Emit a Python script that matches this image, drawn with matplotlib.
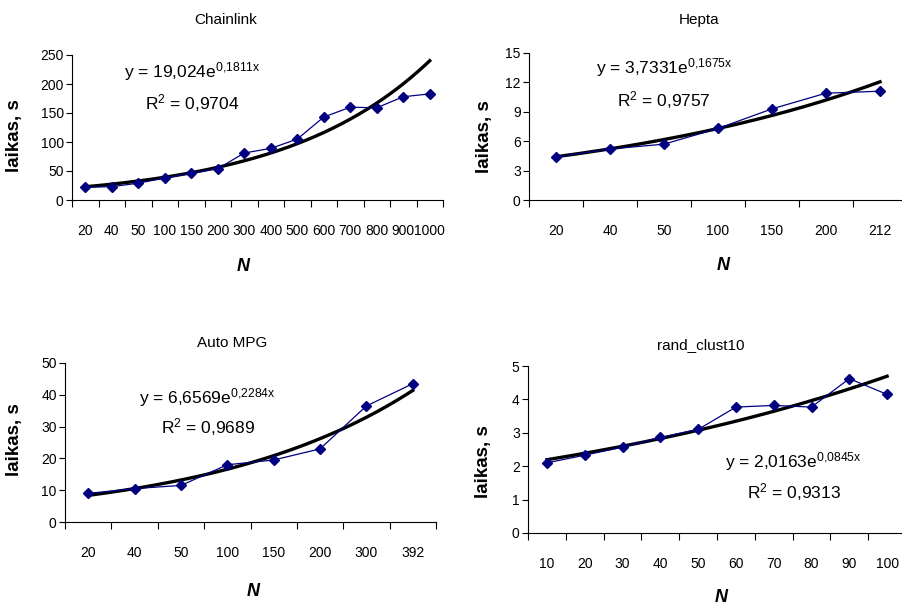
import numpy as np
import matplotlib
matplotlib.use('Agg')
import matplotlib.pyplot as plt

plt.rcParams['font.family'] = ['Liberation Sans Narrow', 'Liberation Sans', 'DejaVu Sans']

W, H = 902, 606

# data
chain_n = ['20', '40', '50', '100', '150', '200', '300', '400', '500', '600', '700', '800', '900', '1000']
chain_t = [22, 23, 29, 38, 46, 54, 81, 89, 105, 143, 160, 159, 178, 183]
chain_fit = (19.024, 0.1811, 0.9704)

hepta_n = ['20', '40', '50', '100', '150', '200', '212']
hepta_t = [4.4, 5.2, 5.7, 7.3, 9.3, 10.9, 11.1]
hepta_fit = (3.7331, 0.1675, 0.9757)

auto_n = ['20', '40', '50', '100', '150', '200', '300', '392']
auto_t = [9.0, 10.5, 11.5, 18.0, 19.5, 23.0, 36.5, 43.5]
auto_fit = (6.6569, 0.2284, 0.9689)

rand_n = ['10', '20', '30', '40', '50', '60', '70', '80', '90', '100']
rand_t = [2.1, 2.33, 2.57, 2.86, 3.1, 3.77, 3.82, 3.77, 4.62, 4.15]
rand_fit = (2.0163, 0.0845, 0.9313)


def fmt(v, d, math=False):
    s = f'{v:.{d}f}'
    return s.replace('.', '{,}') if math else s.replace('.', ',')


def panel(fig, box, title, title_xy, cats, vals, fit, ymax, ystep, eq_xy, r2_xy, ylab_xy, nlab_xy):
    left, top, right, bottom = box
    ax = fig.add_axes([left / W, 1 - bottom / H, (right - left) / W, (bottom - top) / H])
    n = len(cats)
    x = np.arange(1, n + 1)
    a, b, r2 = fit
    xs = np.linspace(1, n, 200)
    ax.plot(xs, a * np.exp(b * xs), color='black', lw=2.4, zorder=2)
    ax.plot(x, vals, color='#000080', lw=0.9, marker='D', ms=5.5,
            mfc='#000080', mec='#000080', zorder=3)
    ax.set_xlim(0.5, n + 0.5)
    ax.set_ylim(0, ymax)
    ax.set_yticks(np.arange(0, ymax + 0.01, ystep))
    ax.set_xticks(np.arange(0.5, n + 1, 1))
    ax.set_xticklabels([])
    ax.set_xticks(x, minor=True)
    ax.set_xticklabels(cats, minor=True, fontsize=10)
    ax.tick_params(axis='x', which='major', direction='out', length=5, width=0.8)
    ax.tick_params(axis='x', which='minor', length=0, pad=17)
    ax.tick_params(axis='y', direction='out', length=4, width=0.8, labelsize=10, pad=2)
    for s in ['top', 'right']:
        ax.spines[s].set_visible(False)
    ax.spines['left'].set_linewidth(0.8)
    ax.spines['bottom'].set_linewidth(0.8)

    fig.text(title_xy[0] / W, 1 - title_xy[1] / H, title, ha='center', va='center', fontsize=11)
    fig.text(eq_xy[0] / W, 1 - eq_xy[1] / H,
             r'y = %s$\mathregular{e^{%s x}}$' % (fmt(a, 4 if a < 10 else 3), fmt(b, 4, True)),
             ha='center', va='center', fontsize=12.5)
    fig.text(r2_xy[0] / W, 1 - r2_xy[1] / H,
             r'R$\mathregular{^2}$ = %s' % fmt(r2, 4), ha='center', va='center', fontsize=12.5)
    fig.text(ylab_xy[0] / W, 1 - ylab_xy[1] / H, 'laikas, s', rotation=90,
             ha='center', va='center', fontsize=13.5, fontweight='bold',
             family=['Liberation Sans', 'DejaVu Sans'])
    fig.text(nlab_xy[0] / W, 1 - nlab_xy[1] / H, 'N', ha='center', va='center',
             fontsize=13, fontweight='bold', style='italic', family=['Liberation Sans', 'DejaVu Sans'])
    return ax


fig = plt.figure(figsize=(W / 100, H / 100), dpi=100)

panel(fig, (72, 55, 443, 200), 'Chainlink', (226, 20), chain_n, chain_t, chain_fit, 250, 50,
      (192, 72), (192, 103), (15, 136), (243, 267))
panel(fig, (529, 53, 907, 200), 'Hepta', (699, 20), hepta_n, hepta_t, hepta_fit, 15, 3,
      (664, 68), (664, 100), (484, 137), (723, 265))
panel(fig, (65, 363, 436, 522), 'Auto MPG', (232, 343), auto_n, auto_t, auto_fit, 50, 10,
      (207, 398), (208, 427), (15, 440), (253, 592))
panel(fig, (528, 366, 906, 533), 'rand_clust10', (701, 345), rand_n, rand_t, rand_fit, 5, 1,
      (793, 462), (794, 492), (483, 462), (721, 597))

fig.savefig('out.png', dpi=100)
